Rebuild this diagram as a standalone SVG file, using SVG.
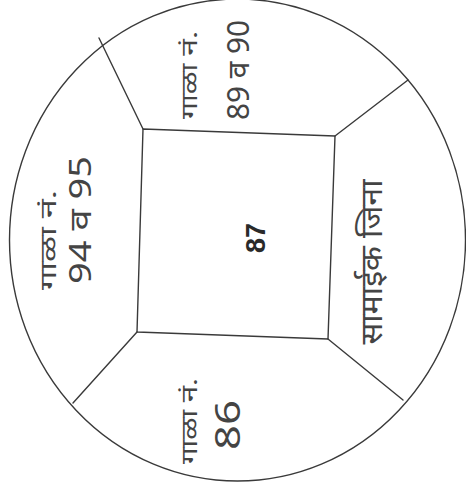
<svg xmlns="http://www.w3.org/2000/svg" width="466" height="484" viewBox="0 0 466 484">
<style>
.ln{fill:none;stroke:#3a3a3a;stroke-width:1.4;stroke-linecap:round;stroke-linejoin:round}
.hw{font-family:"Noto Sans","Noto Sans Devanagari","Lohit Devanagari","FreeSans",sans-serif;fill:#444444;text-anchor:middle}
.lbl{font-size:22px}
.num{font-size:31px}
.ctr{font-family:"Liberation Sans",Arial,sans-serif;font-size:27px;font-weight:bold;fill:#2a2a2a;text-anchor:middle}
</style>
<rect width="466" height="484" fill="#ffffff"/>
<g id="outer-circle">
<ellipse class="ln" cx="237.5" cy="240" rx="228" ry="241"/>
</g>
<g id="connectors">
<line class="ln" x1="143" y1="129" x2="99" y2="38"/>
<line class="ln" x1="335" y1="136" x2="408" y2="80"/>
<line class="ln" x1="328" y1="339" x2="403" y2="400"/>
<line class="ln" x1="137" y1="332" x2="73" y2="403"/>
</g>
<g id="shop-87">
<polygon class="ln" points="143,129 335,136 328,339 137,332"/>
<text class="ctr" transform="translate(265,238) rotate(-90)" textLength="30" lengthAdjust="spacingAndGlyphs">87</text>
</g>
<g id="shop-89-90">
<text class="hw lbl" transform="translate(197,75) rotate(-90)" textLength="88" lengthAdjust="spacingAndGlyphs">गाळा नं.</text>
<text class="hw num" transform="translate(249,70) rotate(-90)" textLength="100" lengthAdjust="spacingAndGlyphs">89 व 90</text>
</g>
<g id="shop-94-95">
<text class="hw lbl" transform="translate(56,240) rotate(-90)" textLength="100" lengthAdjust="spacingAndGlyphs">गाळा नं.</text>
<text class="hw num" transform="translate(91,220) rotate(-90)" textLength="128" lengthAdjust="spacingAndGlyphs">94 व 95</text>
</g>
<g id="shop-86">
<text class="hw lbl" transform="translate(197,421) rotate(-90)" textLength="86" lengthAdjust="spacingAndGlyphs">गाळा नं.</text>
<text class="hw num" transform="translate(240,425) rotate(-90)" textLength="50" lengthAdjust="spacingAndGlyphs" style="font-size:34px">86</text>
</g>
<g id="common-stair">
<text class="hw num" transform="translate(382,262) rotate(-90)" textLength="165" lengthAdjust="spacingAndGlyphs" style="font-size:30px">सामाईक जिना</text>
</g>
</svg>
